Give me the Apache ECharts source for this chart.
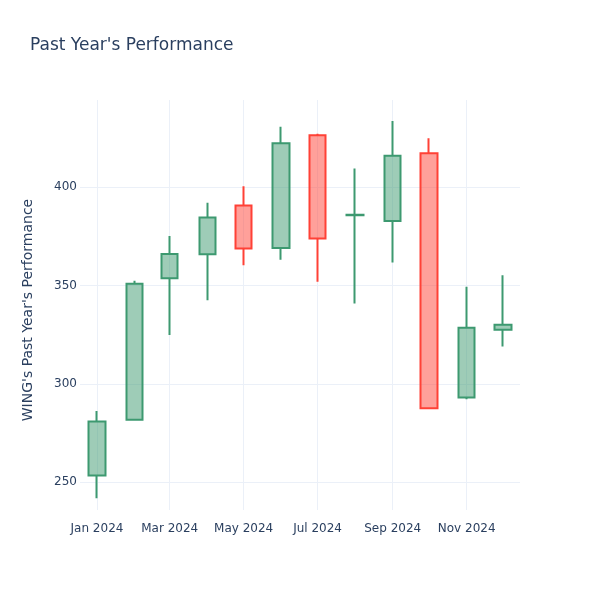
<!DOCTYPE html>
<html>
<head>
<meta charset="utf-8">
<script src="https://cdn.jsdelivr.net/npm/echarts@6/dist/echarts.min.js"></script>
<style>html,body{margin:0;padding:0;background:#fff}#c{width:600px;height:600px}</style>
</head>
<body>
<div id="c"></div>
<script>
var months = ['2024-01','2024-02','2024-03','2024-04','2024-05','2024-06','2024-07','2024-08','2024-09','2024-10','2024-11','2024-12'];
var openV  = [253.4, 281.7, 353.6, 365.8, 390.7, 369.0, 426.4, 385.7, 382.8, 417.2, 293.0, 327.5];
var closeV = [280.8, 350.8, 366.0, 384.6, 368.8, 422.3, 373.9, 386.0, 415.9, 287.6, 328.5, 330.0];
var lowV   = [241.8, 281.5, 324.8, 342.5, 360.3, 363.1, 351.9, 340.8, 361.7, 287.4, 292.1, 318.9];
var highV  = [286.1, 352.4, 375.1, 392.0, 400.5, 430.7, 427.2, 409.5, 433.6, 424.8, 349.3, 355.2];
var xTickMonths = ['2024-01','2024-03','2024-05','2024-07','2024-09','2024-11'];
var yTicks = [250, 300, 350, 400];
var monthNames = ['Jan','Feb','Mar','Apr','May','Jun','Jul','Aug','Sep','Oct','Nov','Dec'];

var DAY = 86400000;
var t0 = Date.UTC(2024, 0, 1);
function dayNum(s){ var p = s.split('-'); return (Date.UTC(+p[0], +p[1]-1, 1) - t0) / DAY; }
var data = months.map(function(m,i){ return [dayNum(m), openV[i], closeV[i], lowV[i], highV[i]]; });
var xTicks = xTickMonths.map(dayNum);
var font = 'DejaVu Sans, sans-serif';

var chart = echarts.init(document.getElementById('c'));
chart.setOption({
  animation: false,
  backgroundColor: '#fff',
  title: {
    text: "Past Year's Performance",
    left: 25, top: 32,
    textStyle: { fontFamily: font, fontSize: 17, fontWeight: 'normal', color: '#2a3f5f' }
  },
  grid: { left: 80, right: 80, top: 100, bottom: 90, containLabel: false },
  xAxis: {
    type: 'value',
    min: -14, max: 349,
    axisLine: { show: false },
    axisTick: { show: false, customValues: xTicks },
    splitLine: { show: true, lineStyle: { color: '#EBF0F8', width: 1 } },
    axisLabel: {
      customValues: xTicks,
      margin: 13,
      fontFamily: font, fontSize: 12, color: '#2a3f5f',
      formatter: function(v){ var d = new Date(t0 + v * DAY); return monthNames[d.getUTCMonth()] + ' ' + d.getUTCFullYear(); }
    }
  },
  yAxis: {
    type: 'value',
    min: 235.8, max: 444.3,
    name: "WING's Past Year's Performance",
    nameLocation: 'middle',
    nameGap: 45,
    nameTextStyle: { fontFamily: font, fontSize: 14, color: '#2a3f5f', padding: [0, 10, 0, 0] },
    axisLine: { show: false },
    axisTick: { show: false, customValues: yTicks },
    splitLine: { show: true, lineStyle: { color: '#EBF0F8', width: 1 } },
    axisLabel: { customValues: yTicks, margin: 3, fontFamily: font, fontSize: 12, color: '#2a3f5f' }
  },
  series: [{
    type: 'candlestick',
    data: data,
    encode: { x: 0, y: [1, 2, 3, 4] },
    barWidth: 17,
    itemStyle: {
      color: 'rgba(61,153,112,0.5)',
      color0: 'rgba(255,65,54,0.5)',
      borderColor: '#3D9970',
      borderColor0: '#FF4136',
      borderWidth: 2
    }
  }]
});
</script>
</body>
</html>
